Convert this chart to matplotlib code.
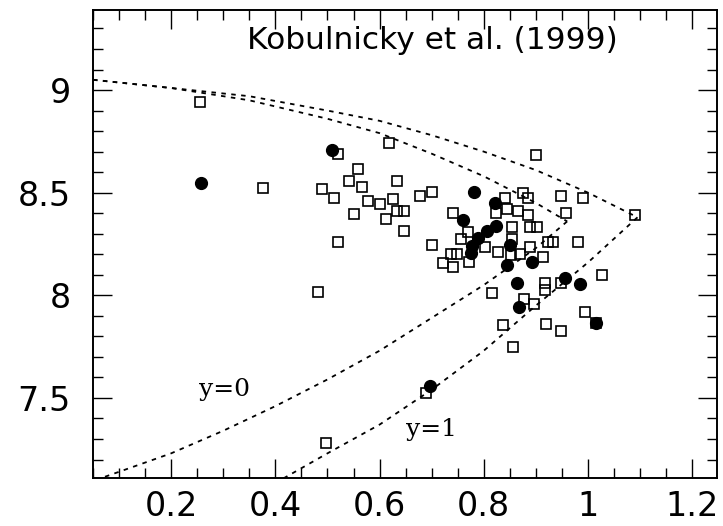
import matplotlib.pyplot as plt

# model curves (upper / lower branches)
up1_x = [0.05, 0.2, 0.35, 0.5, 0.6, 0.7, 0.8, 0.9, 1.0, 1.095]
up1_y = [9.05, 9.01, 8.97, 8.90, 8.85, 8.78, 8.70, 8.61, 8.50, 8.38]
low1_x = [1.095, 1.0, 0.9, 0.8, 0.7, 0.6, 0.5, 0.41]
low1_y = [8.38, 8.16, 7.95, 7.73, 7.54, 7.37, 7.23, 7.10]

up0_x = [0.05, 0.2, 0.35, 0.5, 0.6, 0.7, 0.8, 0.9, 0.96]
up0_y = [9.05, 9.01, 8.95, 8.86, 8.79, 8.69, 8.58, 8.45, 8.36]
low0_x = [0.96, 0.9, 0.8, 0.7, 0.6, 0.5, 0.4, 0.3, 0.2, 0.1, 0.055]
low0_y = [8.36, 8.23, 8.05, 7.89, 7.73, 7.59, 7.46, 7.34, 7.23, 7.14, 7.10]

# open squares
sq_x = [0.256, 0.377, 0.489, 0.513, 0.520, 0.520, 0.481, 0.618, 0.559, 0.542,
        0.566, 0.578, 0.633, 0.550, 0.601, 0.626, 0.633, 0.646, 0.612, 0.647,
        0.678, 0.700, 0.700, 0.900, 0.876, 0.885, 0.841, 0.823, 0.844, 0.865,
        0.885, 0.740, 0.888, 0.902, 0.855, 0.770, 0.757, 0.855, 0.888, 0.924,
        0.802, 0.949, 0.991, 0.957, 1.090, 0.932, 0.981, 0.722, 0.740, 0.738,
        0.749, 0.772, 0.828, 0.853, 0.869, 0.913, 0.815, 0.877, 0.896, 0.917,
        0.917, 0.836, 0.856, 0.919, 0.949, 1.026, 0.994, 1.016, 0.949, 0.690,
        0.497]
sq_y = [8.943, 8.524, 8.516, 8.472, 8.688, 8.261, 8.014, 8.742, 8.615, 8.557,
        8.526, 8.459, 8.557, 8.396, 8.443, 8.467, 8.410, 8.410, 8.371, 8.313,
        8.483, 8.504, 8.245, 8.683, 8.497, 8.472, 8.472, 8.399, 8.420, 8.410,
        8.391, 8.399, 8.331, 8.331, 8.331, 8.307, 8.274, 8.272, 8.233, 8.261,
        8.236, 8.483, 8.475, 8.399, 8.391, 8.261, 8.261, 8.155, 8.136, 8.201,
        8.201, 8.163, 8.212, 8.196, 8.201, 8.188, 8.012, 7.980, 7.960, 8.058,
        8.025, 7.855, 7.749, 7.860, 8.062, 8.101, 7.920, 7.866, 7.827, 7.522,
        7.278]

# filled circles
dot_x = [0.257, 0.508, 0.782, 0.821, 0.761, 0.789, 0.806, 0.823, 0.777, 0.850,
         0.775, 0.844, 0.892, 0.863, 0.867, 0.956, 0.984, 1.016, 0.697]
dot_y = [8.545, 8.708, 8.501, 8.448, 8.367, 8.279, 8.313, 8.337, 8.240, 8.245,
         8.207, 8.147, 8.163, 8.058, 7.944, 8.082, 8.053, 7.866, 7.557]

fig = plt.figure(figsize=(7.23, 5.26), dpi=100)
ax = fig.add_axes([0.1286, 0.0913, 0.8627, 0.8897])

dash = (0, (2.5, 3))
for cx, cy in [(up1_x, up1_y), (low1_x, low1_y), (up0_x, up0_y), (low0_x, low0_y)]:
    ax.plot(cx, cy, color='black', lw=1.3, linestyle=dash)

ax.plot(dot_x, dot_y, 'o', color='black', markersize=8.5, zorder=3)
ax.plot(sq_x, sq_y, 's', mfc='none', mec='black', markersize=6.5, mew=1.2, zorder=4)

ax.text(0.544, 0.934, 'Kobulnicky et al. (1999)', transform=ax.transAxes,
        ha='center', va='center', fontsize=22.5)
ax.text(0.211, 0.188, 'y=0', transform=ax.transAxes, ha='center', va='center',
        fontsize=18, family='DejaVu Serif')
ax.text(0.542, 0.103, 'y=1', transform=ax.transAxes, ha='center', va='center',
        fontsize=18, family='DejaVu Serif')

ax.set_xlim(0.05, 1.247)
ax.set_ylim(7.11, 9.39)
ax.set_xticks([0.2, 0.4, 0.6, 0.8, 1.0, 1.2])
ax.set_xticklabels(['0.2', '0.4', '0.6', '0.8', '1', '1.2'])
ax.set_xticks([x / 100 for x in range(5, 125, 5)], minor=True)
ax.set_yticks([7.5, 8.0, 8.5, 9.0])
ax.set_yticklabels(['7.5', '8', '8.5', '9'])
ax.set_yticks([y / 10 for y in range(72, 94)], minor=True)

ax.tick_params(which='both', direction='in', top=True, right=True, width=1.0)
ax.tick_params(which='major', length=14, labelsize=24)
ax.tick_params(axis='x', which='major', pad=9)
ax.tick_params(axis='y', which='major', pad=16)
ax.tick_params(which='minor', length=7)
for s in ax.spines.values():
    s.set_linewidth(1.4)

fig.savefig('out.png', dpi=100)
